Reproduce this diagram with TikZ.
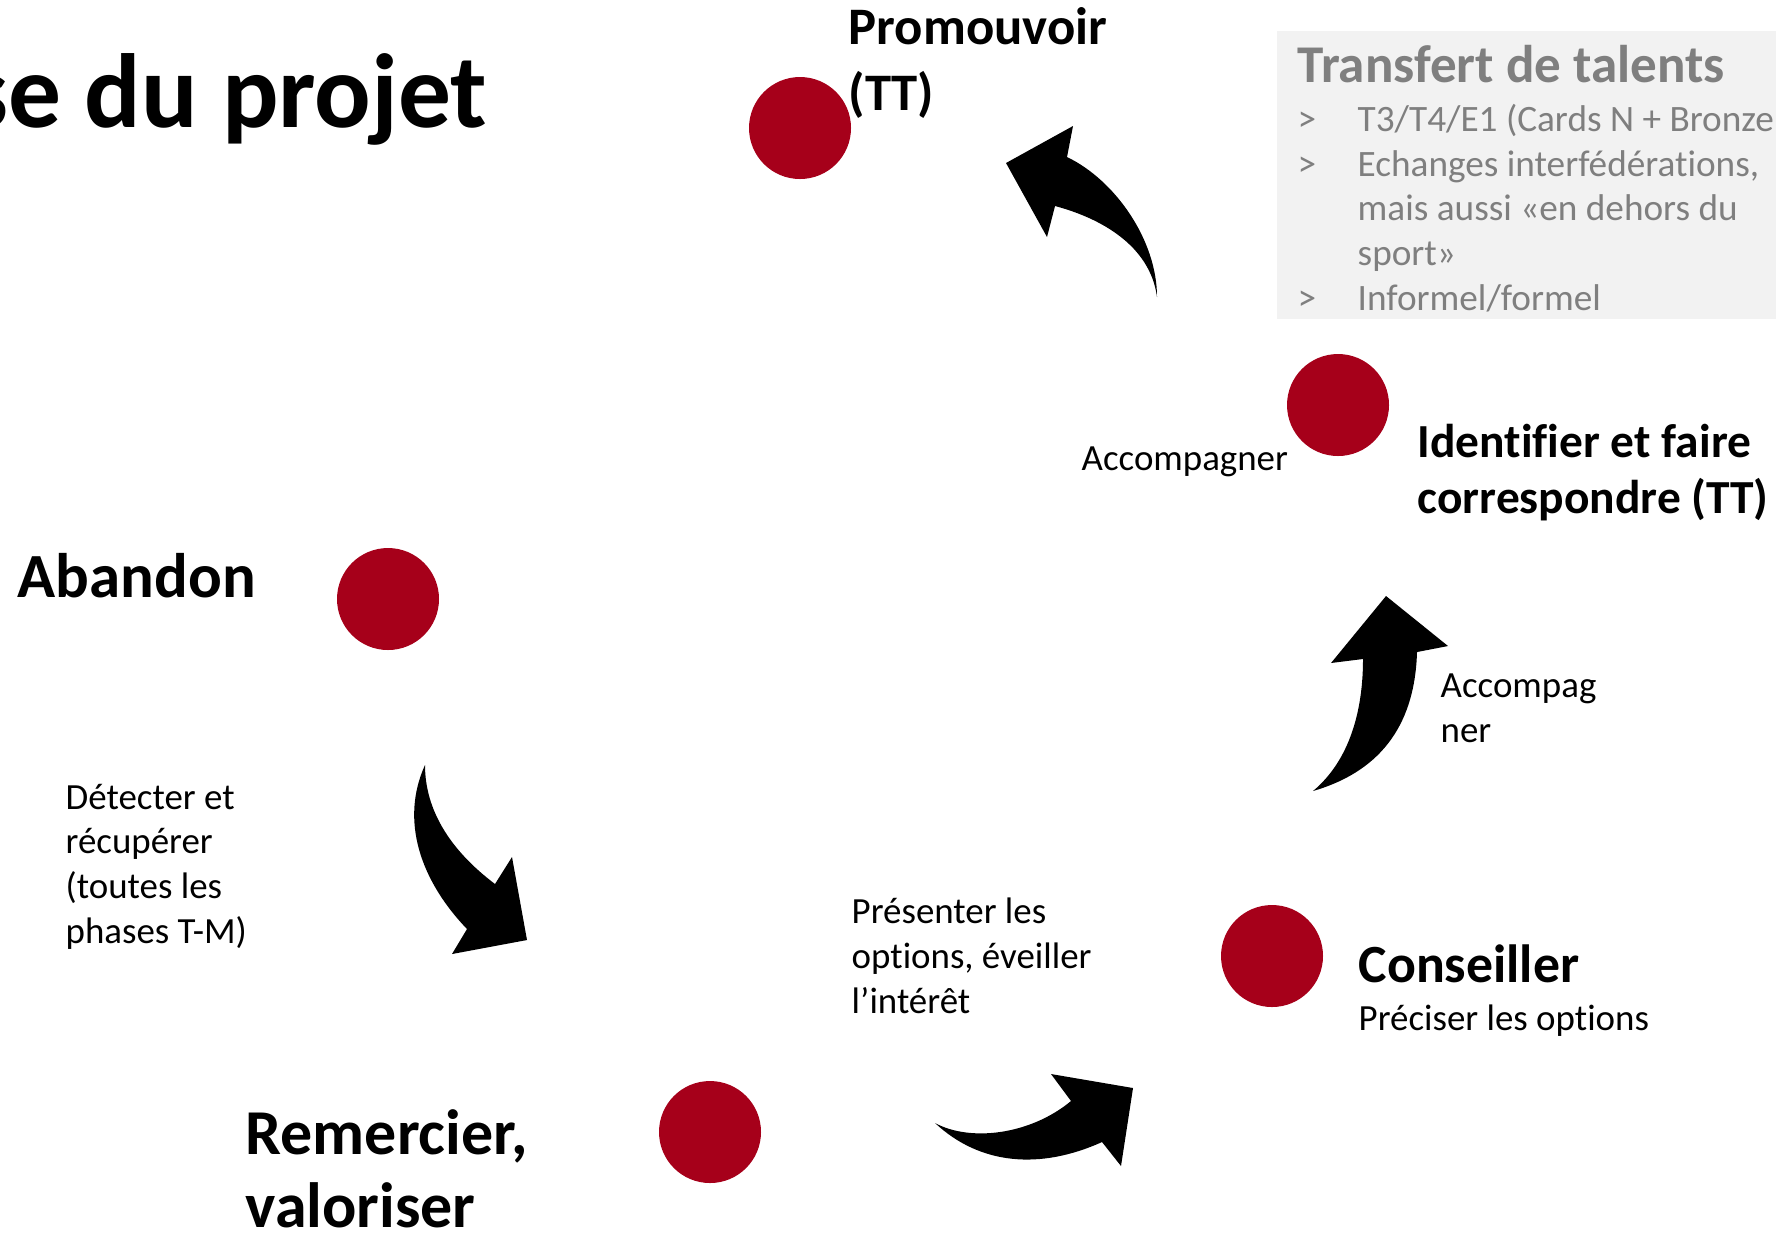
\documentclass[tikz,border=0pt]{standalone}
\usepackage{fontspec}
\setmainfont{Carlito}[Ligatures={NoCommon}]
\usepackage{tikz}

\definecolor{dotred}{RGB}{166,0,26}
\definecolor{boxgray}{RGB}{242,242,242}
\definecolor{textgray}{RGB}{127,127,127}

\begin{document}
\begin{tikzpicture}[scale=0.1]
    \tikzstyle{every node}+=[inner sep=0pt]
    \tikzstyle{dot}=[circle, fill=dotred, minimum size=1.02cm]
    \tikzstyle{phase}=[anchor=base west, align=left]
    \tikzstyle{note}=[anchor=base west, align=left, font=\fontsize{10.5}{12.7}\selectfont]
    \useasboundingbox (0,0) rectangle (177.6,-123.4);
    \clip (0,0) rectangle (177.6,-123.4);
    % titre coupe a gauche
    \draw (48.8,-12.7) node (titre) [anchor=base east, font=\bfseries\fontsize{30}{36}\selectfont] {se du projet};
    % encadre transfert de talents (base = derniere ligne)
    \fill [boxgray] (127.7,-3.1) rectangle (177.6,-31.9);
    \draw (129.7,-8.2) node (transfert) [phase, text=textgray, font=\bfseries\fontsize{15.1}{18}\selectfont] {Transfert de talents};
    \draw (129.7,-31.0) node (liste) [note, text=textgray, font=\fontsize{10.6}{12.7}\selectfont] {\makebox[0.6cm][l]{>}T3/T4/E1 (Cards N + Bronze\\
        \makebox[0.6cm][l]{>}Echanges interfédérations,\\
        \hspace*{0.6cm}mais aussi «en dehors du\\
        \hspace*{0.6cm}sport»\\
        \makebox[0.6cm][l]{>}Informel/formel};
    % les cinq phases
    \draw (80.0,-12.8) node (promouvoir) [dot] {};
    \draw (84.8,-11.0) node (promo_txt) [phase, font=\bfseries\fontsize{15}{18.5}\selectfont] {Promouvoir\\(TT)};
    \draw (133.8,-40.5) node (identifier) [dot] {};
    \draw (141.7,-51.3) node (ident_txt) [phase, font=\bfseries\fontsize{13.5}{15.9}\selectfont] {Identifier et faire\\correspondre (TT)};
    \draw (38.8,-59.9) node (abandon) [dot] {};
    \draw (1.7,-59.7) node (aband_txt) [phase, font=\bfseries\fontsize{17.9}{21}\selectfont] {Abandon};
    \draw (127.2,-95.6) node (conseiller) [dot] {};
    \draw (135.8,-98.2) node (cons_txt) [phase, font=\bfseries\fontsize{15.3}{18}\selectfont] {Conseiller};
    \draw (135.8,-103.0) node (cons_sous) [note] {Préciser les options};
    \draw (71.0,-113.2) node (remercier) [dot] {};
    \draw (24.5,-122.7) node (rem_txt) [phase, font=\bfseries\fontsize{18.2}{20.5}\selectfont] {Remercier,\\valoriser};
    % textes des fleches
    \draw (108.1,-47.0) node (acc_haut) [note] {Accompagner};
    \draw (144.0,-74.2) node (acc_droite) [note] {Accompag\\ner};
    \draw (6.5,-94.3) node (detecter) [note] {Détecter et\\récupérer\\(toutes les\\phases T-M)};
    \draw (85.1,-101.3) node (presenter) [note] {Présenter les\\options, éveiller\\l’intérêt};
    % fleches courbes
    \fill [black] (115.7,-29.7) .. controls (115.7,-24) and (111.5,-18) .. (106.7,-15.7)
        -- (107.3,-12.6) -- (100.6,-16.3) -- (104.7,-23.7) -- (105.5,-20.6)
        .. controls (110,-21.8) and (115,-24.5) .. (115.7,-29.7) -- cycle;
    \fill [black] (131.3,-79.1) .. controls (135,-76) and (136.3,-71) .. (136.3,-65.9)
        -- (133.1,-66.3) -- (138.6,-59.6) -- (144.8,-64.6) -- (141.7,-65.2)
        .. controls (141.5,-72) and (138.5,-77) .. (131.3,-79.1) -- cycle;
    \fill [black] (42.5,-76.5) .. controls (42.5,-81) and (45,-85) .. (49.5,-88.4)
        -- (51.2,-85.7) -- (52.7,-94.0) -- (45.2,-95.4) -- (46.7,-92.9)
        .. controls (42,-88) and (40,-82) .. (42.5,-76.5) -- cycle;
    \fill [black] (93.5,-112.3) .. controls (97,-114.2) and (103,-113.5) .. (107.1,-110.1)
        -- (105.1,-107.4) -- (113.3,-108.8) -- (112.1,-116.6) -- (110.2,-114.2)
        .. controls (104,-117) and (98,-116.5) .. (93.5,-112.3) -- cycle;
\end{tikzpicture}
\end{document}
